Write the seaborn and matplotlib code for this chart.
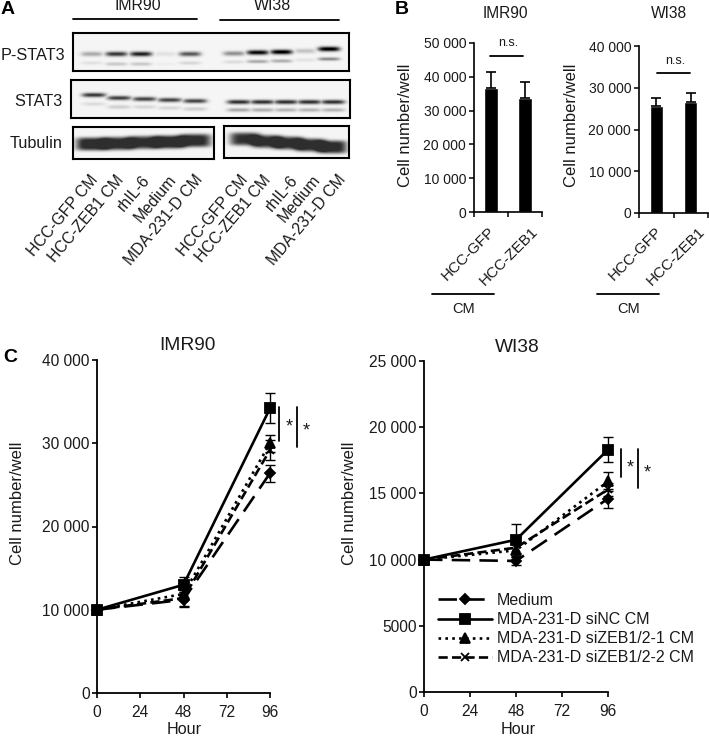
import numpy as np
import pandas as pd
import seaborn as sns
import matplotlib.pyplot as plt
from matplotlib.lines import Line2D

W, H = 709, 736

# blot band strengths, one value per lane (IMR90 x5, WI38 x5)
pstat3_main = [0.30, 0.75, 0.85, 0.08, 0.62, 0.40, 0.95, 1.00, 0.20, 1.00]
pstat3_low = [0.08, 0.18, 0.18, 0.03, 0.12, 0.10, 0.30, 0.28, 0.08, 0.42]
pstat3_main_row = [21, 21, 21, 21, 21, 20.5, 19.5, 19, 18, 16]
pstat3_low_row = [30, 31, 31, 31, 30, 29, 28.5, 28, 27, 26]
stat3_main = [0.75, 0.72, 0.70, 0.70, 0.70, 0.78, 0.78, 0.78, 0.78, 0.78]
stat3_low = [0.10, 0.15, 0.12, 0.12, 0.15, 0.30, 0.28, 0.25, 0.25, 0.25]
stat3_main_row = [15, 18, 19, 20, 21, 22, 22, 22, 22, 22]
stat3_low_row = [24, 27, 27, 28, 29, 30, 30, 30, 30, 30]
tub_left_strength = [0.88, 0.85, 0.80, 0.92, 0.85]
tub_left_row = [17, 16.5, 15.5, 15, 13.5]
tub_right_strength = [0.78, 0.78, 0.80, 0.82, 0.85]
tub_right_row = [13, 15.5, 17, 19, 21]

blot_rows = ["P-STAT3", "STAT3", "Tubulin"]
blot_lanes = ["HCC-GFP CM", "HCC-ZEB1 CM", "rhIL-6", "Medium", "MDA-231-D CM"]

# panel B
bar_groups = ["HCC-GFP", "HCC-ZEB1"]
imr_bar = [36600, 33700]
imr_bar_err = [4700, 4700]
wi_bar = [25700, 26500]
wi_bar_err = [1950, 2200]
imr_bar_ticks = ["0", "10 000", "20 000", "30 000", "40 000", "50 000"]
wi_bar_ticks = ["0", "10 000", "20 000", "30 000", "40 000"]

# panel C
hours = [0, 48, 96]
series = ["Medium", "MDA-231-D siNC CM", "MDA-231-D siZEB1/2-1 CM", "MDA-231-D siZEB1/2-2 CM"]
imr_medium = [10000, 11200, 26400]
imr_sinc = [10000, 13000, 34200]
imr_si1 = [10000, 11900, 30000]
imr_si2 = [10000, 11400, 29200]
imr_medium_err = [0, 900, 1000]
imr_sinc_err = [0, 900, 1800]
imr_si1_err = [0, 600, 1000]
imr_si2_err = [0, 1000, 1200]
wi_medium = [10000, 9900, 14600]
wi_sinc = [10000, 11500, 18300]
wi_si1 = [10000, 10700, 15900]
wi_si2 = [10000, 10900, 15300]
wi_medium_err = [0, 300, 700]
wi_sinc_err = [0, 1200, 950]
wi_si1_err = [0, 500, 700]
wi_si2_err = [0, 400, 500]
imr_line_ticks = ["0", "10 000", "20 000", "30 000", "40 000"]
wi_line_ticks = ["0", "5000", "10 000", "15 000", "20 000", "25 000"]
hour_ticks = [0, 24, 48, 72, 96]

sns.set_theme(style="ticks")
plt.rcParams["font.family"] = ["Liberation Sans", "DejaVu Sans"]
plt.rcParams["text.color"] = "#1a1a1a"
plt.rcParams["axes.edgecolor"] = "black"

fig = plt.figure(figsize=(W / 100, H / 100), dpi=100)


def box(x0, y0, x1, y1):
    # axes from pixel corners, y counted from the top
    return fig.add_axes([x0 / W, 1 - y1 / H, (x1 - x0) / W, (y1 - y0) / H])


def label(x, y, s, size=11, **kw):
    kw.setdefault("ha", "center")
    kw.setdefault("va", "center")
    fig.text(x / W, 1 - y / H, s, fontsize=size, **kw)


def rule(x0, y0, x1, y1, lw=1.3):
    fig.add_artist(Line2D([x0 / W, x1 / W], [1 - y0 / H, 1 - y1 / H], color="black", lw=lw))


def band_image(w, h, lanes, rows, strengths, half_w=11, half_h=2.2, power=2, merge=False):
    yy, xx = np.mgrid[0:h, 0:w]
    img = np.zeros((h, w))
    for cx, cy, s in zip(lanes, rows, strengths):
        across = np.exp(-((xx + 0.5 - cx) / half_w) ** 4)
        down = np.exp(-np.abs((yy + 0.5 - cy) / half_h) ** power)
        if merge:
            img = np.minimum(img + s * across * down, 0.78)
        else:
            img = np.maximum(img, s * across * down)
    return img


def draw_blot(rect, img):
    ax = box(*rect)
    sns.heatmap(img + 0.04, cmap="gray_r", vmin=0, vmax=1, cbar=False, ax=ax,
                xticklabels=False, yticklabels=False)
    for s in ax.spines.values():
        s.set_visible(True)
        s.set_linewidth(1.5)
        s.set_color("black")
    return ax


# --- panel A
lanes_top = list(np.linspace(92, 190, 5) - 73) + list(np.linspace(234, 329, 5) - 73)
img = band_image(276, 38, lanes_top, pstat3_main_row, pstat3_main, half_h=2.4)
img = np.maximum(img, band_image(276, 38, lanes_top, pstat3_low_row, pstat3_low, half_h=1.8))
draw_blot((73, 33, 349, 71), img)

lanes_mid = list(np.linspace(94, 195, 5) - 71) + list(np.linspace(239, 333, 5) - 71)
img = band_image(279, 38, lanes_mid, stat3_main_row, stat3_main, half_w=12, half_h=2.2)
img = np.maximum(img, band_image(279, 38, lanes_mid, stat3_low_row, stat3_low, half_w=12, half_h=2.0))
draw_blot((71, 80, 350, 118), img)

img = band_image(141, 32, np.linspace(19, 122, 5), tub_left_row, tub_left_strength,
                 half_w=16, half_h=6.5, power=4, merge=True)
draw_blot((73, 127, 214, 159), img)
img = band_image(125, 32, np.linspace(21, 108, 5), tub_right_row, tub_right_strength,
                 half_w=15, half_h=6.5, power=4, merge=True)
draw_blot((224, 126, 349, 158), img)

label(8, 9, "A", size=14, fontweight="bold", color="black")
label(138, 6, "IMR90", size=11.4)
label(272, 6, "WI38", size=11.4)
rule(73, 19, 197, 19)
rule(220, 20, 339, 20)
label(65, 55, blot_rows[0], size=11.7, ha="right")
label(63, 102, blot_rows[1], size=11.7, ha="right")
label(63, 144, blot_rows[2], size=11.7, ha="right")

ends = [95, 121, 147, 174, 200, 245, 268, 295, 318, 343]
for x_end, s in zip(ends, blot_lanes * 2):
    label(x_end, 177, s, size=11.4, ha="right", rotation=50, rotation_mode="anchor")


# --- panel B
def draw_bars(rect, values, errs, ticks, top):
    ax = box(*rect)
    df = pd.DataFrame({"group": bar_groups, "cells": values})
    sns.barplot(data=df, x="group", y="cells", color="black", width=0.39,
                saturation=1, ax=ax)
    ax.errorbar([0, 1], values, yerr=[[0, 0], errs], fmt="none", ecolor="black",
                elinewidth=1.2, capsize=3.4, capthick=1.2)
    ax.set_xlim(-0.5, 1.5)
    ax.set_ylim(0, top)
    ax.set_xticks([-0.5, 0.5, 1.5], labels=[])
    ax.set_yticks(np.arange(len(ticks)) * 10000, labels=ticks, fontsize=10)
    ax.set_xlabel("")
    ax.set_ylabel("")
    ax.tick_params(length=3.6, width=1.1, pad=2, colors="black", labelcolor="#1a1a1a")
    sns.despine(ax=ax)
    for s in ax.spines.values():
        s.set_linewidth(1.2)
    return ax


draw_bars((474, 43, 542, 212), imr_bar, imr_bar_err, imr_bar_ticks, 50000)
draw_bars((639, 46, 708, 213), wi_bar, wi_bar_err, wi_bar_ticks, 40000)

label(402, 9, "B", size=14, fontweight="bold", color="black")
label(505, 14, "IMR90", size=11.2)
label(669, 14, "WI38", size=11.2)
label(405, 125, "Cell number/well", size=12, rotation=90)
label(572, 125, "Cell number/well", size=12, rotation=90)
rule(490, 56, 523, 56)
rule(657, 73, 690, 73)
label(508, 43, "n.s.", size=9)
label(675, 61, "n.s.", size=9)
for x_end, s in zip([493, 536, 660, 703], bar_groups * 2):
    label(x_end, 229, s, size=11, ha="right", rotation=45, rotation_mode="anchor")
rule(432, 294, 494, 294)
rule(597, 294, 659, 294)
label(464, 309, "CM", size=10.5)
label(629, 309, "CM", size=10.5)

# --- panel C
line_styles = [
    dict(marker="D", markersize=5.5, linestyle=(0, (7, 3.5)), zorder=3),
    dict(marker="s", markersize=7.5, linestyle="-", zorder=6),
    dict(marker="^", markersize=7, linestyle=(0, (1, 1.6)), zorder=5),
    dict(marker="x", markersize=6, linestyle=(0, (3.5, 1.6)), zorder=4),
]


def draw_lines(rect, all_values, all_errs, ticks, top, step):
    ax = box(*rect)
    for name, vals, errs, style in zip(series, all_values, all_errs, line_styles):
        df = pd.DataFrame({"hour": hours, "cells": vals})
        sns.lineplot(data=df, x="hour", y="cells", color="black", linewidth=1.9, ax=ax,
                     errorbar=None, label=name, markeredgecolor="black",
                     markeredgewidth=1.3, **style)
        ax.errorbar(hours, vals, yerr=errs, fmt="none", ecolor="black", elinewidth=1,
                    capsize=3.6, capthick=1, clip_on=False, zorder=2)
    for ln in ax.lines:
        ln.set_clip_on(False)
    ax.set_xlim(0, 96)
    ax.set_ylim(0, top)
    ax.set_xticks(hour_ticks)
    ax.set_yticks(np.arange(len(ticks)) * step, labels=ticks)
    ax.set_xlabel("")
    ax.set_ylabel("")
    ax.tick_params(labelsize=11.2, length=3.8, width=1.2, colors="black",
                   labelcolor="#1a1a1a")
    ax.tick_params(axis="x", pad=5)
    ax.tick_params(axis="y", pad=1.5)
    sns.despine(ax=ax)
    for s in ax.spines.values():
        s.set_linewidth(1.3)
    return ax


ax = draw_lines((97, 360, 270, 693),
                [imr_medium, imr_sinc, imr_si1, imr_si2],
                [imr_medium_err, imr_sinc_err, imr_si1_err, imr_si2_err],
                imr_line_ticks, 40000, 10000)
ax.get_legend().remove()

ax = draw_lines((424, 361, 608, 692),
                [wi_medium, wi_sinc, wi_si1, wi_si2],
                [wi_medium_err, wi_sinc_err, wi_si1_err, wi_si2_err],
                wi_line_ticks, 25000, 5000)
ax.legend(loc="upper left", bbox_to_anchor=((438 - 424) / 184, (692 - 593) / 331),
          frameon=False, fontsize=11.5, handlelength=3.4, handletextpad=0.3,
          labelspacing=0.26, borderaxespad=0, borderpad=0)

label(10, 358, "C", size=14, fontweight="bold", color="black")
label(187, 346, "IMR90", size=13.8)
label(517, 348, "WI38", size=13.8)
label(18, 503, "Cell number/well", size=12, rotation=90)
label(349, 503, "Cell number/well", size=12, rotation=90)
label(184, 730, "Hour", size=11.6)
label(518, 730, "Hour", size=11.6)

rule(279, 407, 279, 441)
rule(297, 407, 297, 447)
label(289, 427, "*", size=13)
label(306, 431, "*", size=13)
rule(621, 449, 621, 477)
rule(638, 449, 638, 488)
label(630, 468, "*", size=13)
label(647, 473, "*", size=13)

fig.savefig("out.png", dpi=100, facecolor="white")
